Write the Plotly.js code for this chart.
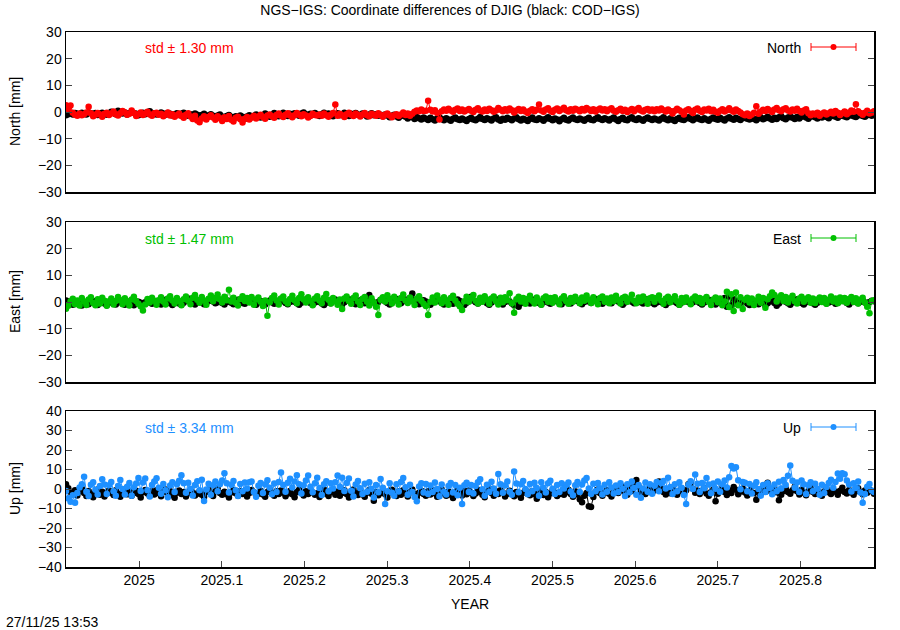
<!DOCTYPE html>
<html>
<head>
<meta charset="utf-8">
<script src="https://cdn.plot.ly/plotly-3.0.1.min.js"></script>
<style>html,body{margin:0;padding:0;background:#fff;}#chart{width:900px;height:630px;}</style>
</head>
<body>
<div id="chart"></div>
<script>
// Daily epochs (decimal year) start and step
const epochStart = 2024.9115;
const epochStep = 1 / 365.25;

const xTickVals = [2025, 2025.1, 2025.2, 2025.3, 2025.4, 2025.5, 2025.6, 2025.7, 2025.8];
const xTickText = ["2025", "2025.1", "2025.2", "2025.3", "2025.4", "2025.5", "2025.6", "2025.7", "2025.8"];

const neTicks = [-30, -20, -10, 0, 10, 20, 30];
const upTicks = [-40, -30, -20, -10, 0, 10, 20, 30, 40];

const stdLabels = ["std \u00b1 1.30 mm", "std \u00b1 1.47 mm", "std \u00b1 3.34 mm"];
const compNames = ["North", "East", "Up"];

// North: NGS-IGS (red)
const northNGS = [
2.5,1.2,2.4,-0.3,-1.0,-1.4,-0.6,-1.2,-0.8,-0.2,2.0,-0.5,-1.6,-1.0,-0.4,-0.9,-1.8,-0.7,-0.3,-1.1,
-0.6,0.2,-0.8,-1.3,-0.5,0.4,-0.2,-1.0,-0.7,0.6,-0.4,-1.5,-0.8,-0.2,-1.1,-0.6,0.1,-0.9,-1.4,-0.5,
-0.3,-1.0,-0.7,-1.6,-0.9,-0.2,-1.3,-0.8,-1.8,-1.2,-0.6,-1.5,-2.2,-1.0,-0.5,-1.7,-2.6,-1.4,-3.2,-3.8,
-2.4,-1.6,-2.8,-1.9,-1.2,-2.1,-2.9,-1.6,-2.3,-3.4,-2.0,-2.6,-1.5,-2.9,-3.6,-2.2,-1.8,-2.7,-3.9,-2.5,
-1.9,-2.8,-2.1,-1.4,-2.4,-1.7,-1.0,-1.9,-2.5,-1.3,-0.9,-1.6,-2.2,-1.1,-0.6,-1.4,-1.9,-1.0,-0.5,-1.3,
-2.0,-1.2,-0.4,-1.0,-1.6,-0.8,-1.3,-2.1,-1.5,-0.7,-1.1,-1.3,-0.9,-1.4,-0.6,-1.2,-1.8,-1.0,-0.4,2.8,
-1.4,-0.7,-1.2,-1.9,-0.8,-0.3,-1.0,-1.5,-0.6,-1.1,-1.7,-0.9,-0.4,-1.2,-1.6,-0.7,-1.0,-1.4,-0.5,-1.1,
-1.8,-1.0,-0.6,-1.3,-2.0,-1.2,-0.8,-1.5,-0.9,-0.2,-1.1,-0.6,-1.4,-0.7,0.1,0.6,0.3,0.9,0.4,0.5,
4.2,0.8,0.2,0.7,-0.4,-2.8,0.3,0.9,0.5,1.2,0.6,0.1,0.8,1.3,0.4,0.9,0.2,0.7,1.1,0.5,
0.0,0.8,1.4,0.6,0.2,0.9,0.4,1.2,0.7,0.1,0.6,1.5,0.8,0.3,1.0,0.5,1.3,0.7,-0.2,0.6,
1.1,0.4,0.9,0.2,-0.4,0.5,1.0,0.3,0.8,2.8,0.6,0.1,0.9,1.4,0.5,0.0,0.8,1.3,0.4,0.9,
1.6,0.7,0.2,1.0,0.5,1.2,0.8,0.3,1.1,0.6,1.5,0.9,0.4,1.0,0.2,0.8,1.3,0.6,1.0,0.3,
0.9,1.4,0.5,0.1,0.7,1.2,0.4,0.8,0.0,0.6,1.1,0.3,0.9,1.5,0.6,0.2,0.8,1.1,0.5,0.9,
0.3,1.0,0.6,1.3,0.7,0.2,0.9,0.4,-0.6,0.5,1.2,0.7,0.1,-0.9,0.6,1.0,0.4,-0.4,0.8,1.3,
0.5,0.0,0.9,0.6,1.2,0.3,0.8,0.1,-0.3,0.5,1.0,0.2,0.7,1.4,0.6,0.1,0.9,0.4,-0.2,-0.8,
-1.2,-0.6,-1.5,-0.9,-0.3,2.2,-0.7,0.2,0.8,0.4,1.1,0.6,0.0,0.9,1.5,0.7,0.3,1.0,1.4,0.6,
0.2,0.9,0.5,1.2,0.4,-0.2,0.6,1.0,-0.5,-1.2,-0.6,-0.9,-0.3,-1.4,-0.7,-0.2,-0.9,-0.5,0.1,-0.6,
0.4,-0.3,-1.1,-0.5,0.2,-0.8,-0.2,0.6,0.1,2.9,0.3,-0.4,-1.0,-0.3,0.5,-0.6,-0.2,0.3
];
// North: COD-IGS (black)
const northCOD = [
-1.2,-0.8,-0.5,-0.9,-0.4,-0.7,-1.0,-0.3,-0.6,-0.9,-0.2,-0.5,-0.8,-0.4,-1.1,-0.6,-0.3,-0.7,-1.0,-0.5,
0.1,-0.4,-0.8,0.5,-0.3,-0.6,-0.2,-0.9,-0.5,0.0,-0.4,-0.7,-1.2,-0.6,-0.3,-0.8,-0.5,0.3,-0.4,-0.7,
-0.9,-0.5,-0.2,-0.6,-1.0,-0.4,-0.7,-1.3,-0.8,-0.5,-1.1,-0.7,-0.3,-0.9,-1.4,-0.8,-1.2,-0.6,-1.0,-1.5,
-1.1,-0.7,-1.6,-1.2,-0.8,-1.4,-1.9,-1.3,-0.9,-1.7,-2.2,-1.5,-1.1,-1.8,-2.4,-1.6,-2.0,-1.3,-1.8,-2.5,
-1.7,-1.2,-2.0,-1.5,-0.9,-1.6,-2.1,-1.4,-0.6,-1.2,-1.8,-1.0,-0.4,-1.1,-1.6,-0.8,-0.3,-1.0,-1.5,-0.7,
-1.2,-0.5,-0.9,-1.4,-0.6,-0.2,-0.8,-1.3,-0.7,-1.0,-0.4,-0.9,-1.5,-0.8,-0.3,-1.1,-0.6,-1.0,-1.6,-0.9,
-0.5,-1.2,-0.8,-0.3,-1.0,-1.5,-0.7,-1.1,-0.4,-0.9,-1.3,-0.6,-1.0,-1.7,-0.9,-0.5,-1.2,-0.8,-1.4,-1.0,
-1.6,-0.9,-1.3,-2.0,-1.4,-1.0,-1.7,-2.2,-1.5,-1.1,-1.8,-2.4,-1.6,-2.0,-2.6,-1.9,-2.3,-2.8,-2.1,-2.5,
-3.0,-2.2,-2.7,-3.2,-2.4,-2.0,-2.6,-3.1,-2.3,-2.8,-3.3,-2.5,-2.1,-2.7,-3.0,-2.4,-2.9,-3.4,-2.6,-2.2,
-2.8,-3.1,-2.5,-1.9,-2.6,-3.0,-2.3,-2.7,-3.2,-2.4,-2.0,-2.8,-3.3,-2.5,-2.9,-2.2,-2.6,-3.1,-2.4,-2.0,
-2.7,-3.2,-2.5,-2.9,-3.4,-2.6,-2.1,-2.8,-3.0,-2.3,-2.7,-3.3,-2.5,-2.0,-2.6,-3.1,-2.4,-2.8,-3.5,-2.7,
-2.2,-2.9,-3.2,-2.5,-2.1,-2.7,-3.0,-2.4,-2.8,-3.3,-2.6,-2.2,-2.9,-3.1,-2.5,-2.0,-2.6,-3.0,-2.3,-2.7,
-3.2,-2.5,-2.1,-2.8,-3.4,-2.6,-2.2,-2.9,-3.1,-2.4,-2.0,-2.7,-3.0,-2.3,-2.8,-3.3,-2.5,-2.1,-2.6,-3.0,
-2.4,-2.8,-3.2,-2.5,-2.0,-2.7,-3.1,-2.3,-2.9,-3.4,-2.6,-2.2,-2.8,-3.0,-2.4,-2.0,-2.6,-3.1,-2.5,-2.1,
-2.7,-3.0,-2.3,-2.8,-3.3,-2.5,-2.1,-2.6,-2.9,-2.2,-2.7,-3.2,-2.4,-2.0,-2.5,-2.9,-2.2,-2.6,-3.0,-2.3,
-1.9,-2.5,-2.8,-2.1,-2.6,-3.1,-2.4,-2.0,-2.7,-2.3,-1.8,-2.4,-2.9,-2.2,-2.6,-2.0,-1.6,-2.3,-2.7,-2.1,
-1.7,-2.2,-2.6,-1.9,-2.4,-1.8,-1.5,-2.1,-2.5,-1.8,-1.4,-2.0,-2.4,-1.7,-2.1,-1.5,-1.9,-2.3,-1.6,-1.2,
-1.8,-2.2,-1.5,-1.1,-1.7,-2.0,-1.4,-1.0,-1.6,-1.9,-1.3,-0.9,-1.5,-1.8,-1.2,-0.8,-1.4,-1.1
];
// East: NGS-IGS (green)
const eastNGS = [
-2.5,-1.4,0.3,1.2,-0.8,0.6,-1.3,1.5,0.2,-1.1,0.9,1.8,-0.4,-1.2,1.0,-0.6,1.6,0.5,-1.4,0.3,
1.3,-0.9,0.4,1.9,0.7,-0.8,1.4,0.1,-1.3,0.9,2.0,0.4,-0.7,-1.6,-3.2,-0.9,1.1,-0.2,1.6,0.5,
-1.0,0.7,1.8,0.2,-0.9,1.3,2.2,0.6,-0.6,1.5,0.4,-1.2,1.0,2.1,0.5,-0.8,1.6,2.6,0.8,-0.3,
1.9,0.6,-1.0,1.2,2.4,0.3,1.5,2.8,1.0,-0.2,2.0,0.7,4.6,0.2,1.6,-0.3,-1.3,1.1,2.2,0.4,
1.5,-0.2,1.9,-1.0,0.9,1.7,0.1,-1.5,0.6,-5.2,-0.1,1.5,2.4,0.6,-0.9,1.3,2.1,0.3,-0.6,1.1,
2.3,0.7,-0.5,1.5,2.9,0.9,-0.2,1.8,0.5,-1.2,1.3,2.2,0.6,-0.5,1.6,3.0,0.8,-0.6,1.5,0.2,
-1.0,0.9,-2.6,1.3,2.1,0.4,-0.7,1.5,2.4,0.2,-1.1,1.2,1.9,0.1,-1.3,1.4,-0.2,-1.8,-4.9,0.8,
1.8,0.2,2.5,1.1,-0.6,2.0,0.7,-0.9,1.5,2.8,0.6,-0.4,1.7,0.3,-1.1,1.3,2.2,0.5,-0.7,-1.5,
-4.9,0.1,1.7,-0.2,2.4,0.9,-0.5,1.8,0.4,-1.0,1.5,2.3,0.6,-0.7,-1.6,-3.0,0.3,2.0,0.1,1.5,
2.6,0.5,-0.6,1.6,0.1,2.2,0.9,-0.7,1.3,2.1,0.3,-0.9,1.6,-0.1,1.8,0.7,3.3,-0.5,-4.0,1.0,
2.0,0.2,1.5,-0.7,1.1,2.3,0.5,-0.6,1.7,0.3,-1.0,1.4,2.1,0.1,1.5,-0.3,1.8,0.6,-0.8,1.3,
2.2,0.3,-0.7,1.5,0.1,2.0,0.8,-0.5,1.7,0.5,2.4,0.9,-0.4,1.8,0.3,-0.8,1.5,2.1,0.1,1.3,
-0.5,1.7,0.3,2.3,0.8,-0.6,1.5,2.0,0.1,1.3,2.7,0.5,-0.5,1.7,0.3,2.1,0.8,-0.7,1.4,1.8,
0.1,1.5,2.4,0.5,-0.7,1.3,2.0,-0.1,1.1,2.2,0.3,-1.0,1.5,0.0,1.7,0.6,-0.8,1.3,2.1,0.3,
1.5,-0.5,1.1,1.9,0.1,-1.1,0.9,1.7,-0.1,1.3,-1.2,0.2,3.8,-1.9,2.9,-3.4,3.6,-1.2,1.8,-2.6,
0.8,1.6,-0.2,1.3,-1.1,0.6,2.0,-0.3,1.5,-2.2,1.0,2.2,3.6,2.6,0.2,1.7,2.5,0.4,1.9,-0.2,
1.4,2.3,0.3,-0.6,1.3,2.0,0.1,1.1,1.8,-0.3,1.3,-0.4,0.9,1.7,0.0,1.5,-0.7,0.8,2.1,0.2,
1.3,-0.5,1.7,0.3,1.5,-0.3,1.1,1.9,0.0,1.4,-0.6,0.8,1.6,-0.2,-1.8,-4.2,0.4,0.7
];
// East: COD-IGS (black)
const eastCOD = [
0.6,0.2,-0.4,-1.0,-0.5,0.1,-0.7,-1.3,-0.6,0.0,-0.8,-0.3,0.4,-0.5,-1.1,-0.4,0.2,-0.6,-1.2,-0.3,
0.3,-0.5,-0.9,-0.2,0.5,-0.4,-1.0,-0.3,0.2,-0.6,-1.2,-0.5,0.1,-0.3,-0.8,-0.1,0.6,-0.2,-0.7,0.0,
0.4,-0.3,-0.9,-0.4,0.8,0.1,-0.5,-1.1,-0.2,0.3,-0.6,-1.0,-0.3,0.5,1.3,0.2,-0.4,-0.9,-0.1,0.6,
-0.2,-0.8,-0.3,0.4,1.0,0.2,-0.5,-0.1,0.7,-0.4,-0.9,0.0,0.5,-0.3,-0.8,0.1,0.8,0.3,-0.4,-0.7,
0.2,0.9,0.1,-0.5,-1.0,-0.2,0.4,-0.3,-0.9,0.0,0.6,-0.1,-0.7,-0.2,0.5,1.1,0.3,-0.4,-0.8,0.0,
0.7,0.1,-0.5,-1.0,-0.3,0.3,0.9,0.4,-0.4,-0.9,-0.2,0.5,0.0,-0.6,-1.1,-0.3,0.2,-0.5,0.4,0.9,
0.2,-0.4,-0.9,-0.1,0.5,1.0,0.3,-0.3,-0.8,0.1,0.7,0.2,-0.5,0.4,2.6,0.6,-0.2,-0.7,0.0,0.8,
1.2,0.3,-0.4,-0.9,-0.1,0.6,1.1,0.2,-0.5,0.3,0.9,0.4,1.5,3.2,0.5,-0.3,-0.8,0.0,0.7,0.2,
-0.4,-1.0,-0.2,0.5,1.0,0.3,-0.3,-0.9,0.1,0.6,-0.2,-0.7,0.2,0.9,0.4,-0.4,-1.1,-0.3,0.5,2.0,
0.6,-0.1,-0.6,0.2,0.8,0.3,-0.5,-1.0,-0.2,0.4,1.0,0.1,-0.4,-0.9,0.0,0.6,0.2,-0.6,-1.2,-0.3,
-1.8,-0.5,0.2,0.7,-0.1,-0.6,0.3,0.9,0.1,-0.4,-0.9,0.0,0.5,-0.2,-0.7,0.2,0.8,0.3,-0.3,-0.8,
0.1,0.6,-0.2,-0.6,0.3,1.0,0.4,-0.3,-0.8,0.0,0.7,0.2,-0.4,0.5,1.1,0.3,-0.2,-0.7,0.1,0.6,
-0.1,-0.5,0.4,0.9,0.2,-0.4,-1.0,-0.2,0.3,0.8,0.1,-0.5,0.2,0.7,-0.1,-0.6,0.3,1.0,0.4,-0.3,
-0.8,-0.2,0.5,0.0,-0.6,-1.1,-0.3,0.4,0.9,0.1,-0.5,-1.0,-0.2,0.3,0.8,0.0,-0.6,-0.1,0.6,0.2,
-0.4,-0.9,-0.2,0.4,0.8,0.1,-0.5,-0.9,-0.3,0.2,-0.7,1.5,-1.8,2.2,-1.2,1.0,-0.6,0.3,-0.4,0.5,
0.1,-0.6,-1.1,-0.3,0.4,-0.2,-0.8,0.0,0.6,-1.3,-0.5,0.2,0.7,-0.4,-1.4,-0.6,0.3,0.9,0.1,-0.5,
-1.0,-0.2,0.5,1.0,0.2,-0.4,-0.9,-0.1,0.6,0.2,-0.5,-1.0,-0.3,0.4,0.9,0.1,-0.6,-0.2,0.5,0.0,
-0.7,-0.3,0.4,1.0,0.3,-0.4,-0.9,-0.1,0.6,0.2,-0.5,0.1,0.7,-0.2,-0.8,0.0,0.5,0.3
];
// Up: NGS-IGS (blue)
const upNGS = [
-1.0,-4.8,-6.5,-3.2,-7.0,-2.1,0.8,2.5,6.3,-1.4,-3.6,2.2,3.5,-0.4,-2.8,1.6,5.0,2.3,-2.5,1.9,
3.6,-1.2,-3.4,1.5,4.6,0.0,-2.8,1.2,3.1,-3.5,0.9,2.8,5.6,-1.0,3.3,5.4,-0.6,-3.9,2.1,3.8,
5.5,0.7,-2.4,2.6,-0.7,-4.2,1.8,3.4,-1.5,2.4,4.2,7.1,2.9,-1.9,3.2,0.1,-3.3,2.0,4.0,-0.7,
4.8,-6.2,-0.3,2.7,-2.9,1.9,3.9,-1.2,2.5,4.4,8.1,3.0,-1.8,2.2,4.1,-0.6,-3.6,2.6,-1.1,3.3,
0.2,3.5,3.8,-1.5,-4.0,1.7,3.1,-2.0,2.3,4.5,0.6,-2.7,2.8,-1.6,3.6,8.5,2.1,-1.4,3.2,5.2,
0.8,3.9,7.0,2.4,-2.3,1.9,4.3,6.9,1.2,-1.7,3.0,5.8,0.5,-3.1,2.5,4.0,-1.2,2.9,0.2,3.4,
6.9,1.1,5.8,-1.0,3.1,5.4,-0.9,-3.8,2.3,4.1,0.4,-2.5,2.7,-1.4,3.5,0.1,-4.3,2.0,-1.7,5.1,
0.6,-7.7,-1.2,2.9,-1.9,-3.4,2.4,-1.3,3.6,5.7,0.9,-2.9,2.2,-1.5,-4.1,-6.3,1.3,3.0,-1.8,2.6,
-2.6,1.8,-1.6,3.3,0.0,-3.7,2.3,-1.4,-2.8,1.5,3.1,-1.8,2.0,-3.2,0.7,-7.7,1.9,3.2,-1.6,2.1,
-2.3,1.6,3.4,5.0,-0.1,-3.5,2.2,-1.5,3.7,0.2,-2.4,7.7,2.5,-1.9,1.8,3.9,-1.4,-3.0,9.0,2.8,
-1.7,2.4,4.1,0.0,-2.7,2.6,-1.2,3.2,0.5,-3.5,3.4,0.7,-1.8,2.9,4.2,0.1,-2.6,2.0,-1.6,3.0,
0.3,2.1,3.3,-1.3,-3.2,1.9,3.6,-1.5,2.3,4.4,5.6,0.2,-2.5,2.7,-1.1,3.1,0.4,-2.8,2.2,-1.4,
3.5,0.8,-2.3,1.8,-1.6,2.9,0.1,-3.6,2.4,-1.7,3.8,0.5,-2.9,2.0,-4.5,0.2,3.3,-1.4,2.5,-2.4,
1.7,3.6,-1.2,2.9,4.1,0.3,5.8,1.0,-2.6,2.4,-1.1,3.5,0.6,-3.1,-7.7,2.2,4.0,0.0,7.5,2.7,
-1.5,3.1,0.4,5.7,2.3,-2.2,2.8,0.1,3.9,-1.4,2.5,4.3,0.8,6.0,11.8,10.5,11.2,4.5,-0.1,3.6,
3.2,-1.2,2.6,-2.3,1.7,3.4,0.0,-3.4,2.1,-1.6,3.0,0.5,-2.7,2.3,-1.1,3.7,0.2,4.6,2.0,6.8,
12.0,4.2,0.6,3.3,-1.5,4.3,2.4,-2.6,1.9,3.5,-1.2,2.7,0.1,-2.9,2.2,-2.0,1.0,3.1,4.8,0.7,
3.6,7.9,5.2,8.1,7.6,4.4,2.3,-1.3,3.0,0.5,3.9,-1.8,-7.0,-2.5,1.2,2.6,-0.8,-1.5
];
// Up: COD-IGS (black)
const upCOD = [
2.5,0.4,-1.5,-2.8,-0.6,-3.3,-1.2,0.3,-2.0,-3.6,-1.0,-2.4,-4.2,-1.8,-0.2,-2.9,-1.4,-3.8,-2.2,-0.8,
-1.9,-3.1,-0.7,-2.5,-4.0,-1.6,-0.4,-2.7,-1.3,-3.4,-2.0,-0.9,-2.6,-4.3,-1.7,-0.5,-2.3,-3.5,-1.1,-2.8,
-0.6,-2.1,-3.7,-1.4,-0.2,-2.5,-1.0,-3.2,-4.5,-1.9,-0.8,-2.6,-1.5,-3.9,-2.2,-0.7,-1.8,-3.3,-2.4,-1.1,
-2.9,-4.1,-1.6,-0.4,-2.3,-3.6,-1.2,0.2,-2.0,-3.0,-1.4,-2.7,-4.4,-1.8,-0.6,-2.2,-3.5,-1.0,-2.5,-1.3,
-3.8,-2.1,-0.5,-1.7,-3.1,-2.4,-0.9,-2.8,-4.0,-1.5,-0.3,-2.0,-3.4,-1.2,-2.6,-0.8,-1.9,-3.7,-2.3,-1.0,
-2.7,-4.2,-1.6,-0.4,-2.1,-3.3,-1.1,-2.5,-0.6,-1.8,-3.0,-2.2,-4.1,-1.4,-0.2,-2.4,-3.6,-1.7,-0.9,-2.9,
-1.3,-3.5,-2.0,-0.7,-2.6,-4.3,-1.5,-0.3,-2.2,-3.1,-1.0,-2.8,-4.0,-1.9,-0.5,-2.4,-6.0,-1.6,-3.2,-2.1,
-0.8,-2.7,-4.4,-1.8,-0.4,-2.3,-3.6,-1.2,-2.9,-0.7,-2.0,-3.8,-1.5,-0.3,-2.5,-4.1,-1.9,-0.9,-2.6,-3.4,
-1.1,-2.8,-0.6,-2.2,-4.0,-1.7,-0.2,-2.4,-3.5,-1.3,-2.9,-4.6,-1.8,-0.5,-2.1,-3.3,-1.0,-2.7,-0.8,-1.9,
-3.6,-2.3,-0.4,-1.6,-3.0,-4.2,-1.4,0.3,-2.0,-3.4,-1.2,-2.6,-0.7,-1.8,-3.9,-2.5,-0.9,-2.1,-3.7,-1.5,
-2.8,-4.5,-1.9,-0.6,-2.4,-3.2,-1.1,-2.7,-5.0,-2.0,-0.8,-3.1,-1.6,-4.2,-2.3,-0.5,-1.9,-3.6,-2.6,-1.3,
-3.0,-1.7,-0.4,-2.5,-4.0,-1.2,-2.8,-5.3,-6.8,-3.4,-2.0,-8.9,-9.2,-4.1,-1.5,-0.3,-2.2,-3.5,-1.8,-0.6,
-2.4,-3.9,-1.4,-0.2,-2.1,-0.8,1.2,-1.6,-2.9,0.6,-1.0,2.1,4.6,1.0,-1.7,-0.5,-2.6,-1.3,0.4,-1.8,
-0.7,1.5,3.8,0.2,-1.5,-2.8,-0.9,-2.2,0.5,-1.4,-3.0,-1.1,0.3,-2.0,-0.6,2.5,3.2,0.1,-1.9,-0.8,
-2.6,-1.2,0.4,-2.3,-3.5,-1.6,-0.3,-6.3,-2.4,-1.0,0.8,-1.5,-3.1,-0.7,-2.1,1.0,-0.4,-2.7,-1.3,0.2,
-1.8,-3.3,-0.9,1.4,-2.0,-5.5,-1.1,-2.5,0.6,-1.4,3.2,-0.8,-2.2,-0.5,-1.7,-5.8,-2.9,-1.0,0.3,-1.6,
-2.4,-0.7,1.1,-1.2,-2.8,-0.4,-1.9,-3.2,-1.1,0.5,-1.5,-2.6,-0.8,-2.0,-3.4,-1.3,0.2,-1.7,-2.5,-0.6,
-1.4,-2.9,-0.9,0.7,-1.6,-2.3,-0.5,-1.8,-3.0,-1.1,0.4,-1.5,-2.7,-0.8,-1.9,-0.3,-1.2,-2.4
];

const colors = ["#ff0000", "#00c000", "#1e90ff"];

function epochs(n) { const a = []; for (let i = 0; i < n; i++) a.push(epochStart + i * epochStep); return a; }

// geometry helpers (pixel -> paper)
const L = 66, R = 874, T = 32, B = 567;
const px = p => (p - L) / (R - L);
const py = p => (B - p) / (B - T);

const panels = [
  {cod: northCOD, ngs: northNGS, xa: "x3", ya: "y3"},
  {cod: eastCOD, ngs: eastNGS, xa: "x2", ya: "y2"},
  {cod: upCOD, ngs: upNGS, xa: "x", ya: "y"}
];

const traces = [];
panels.forEach((p, k) => {
  traces.push({x: epochs(p.cod.length), y: p.cod, xaxis: p.xa, yaxis: p.ya, type: "scatter", mode: "lines+markers",
    line: {color: "#000", width: 1}, marker: {color: "#000", size: 6.5}, showlegend: false, hoverinfo: "skip"});
  traces.push({x: epochs(p.ngs.length), y: p.ngs, xaxis: p.xa, yaxis: p.ya, type: "scatter", mode: "lines+markers",
    line: {color: colors[k], width: 1}, marker: {color: colors[k], size: 6.5}, showlegend: false, hoverinfo: "skip"});
});

const xr = [epochStart, epochStart + (northNGS.length - 1) * epochStep];
const font = {family: "Liberation Sans, Arial, sans-serif", size: 14, color: "#000"};

function xaxisDef(anchor, showLabels) {
  return {anchor: anchor, range: xr, showline: true, mirror: true, linecolor: "#000", linewidth: 1.5,
    showgrid: false, zeroline: false, tickvals: showLabels ? xTickVals : [], ticktext: showLabels ? xTickText : [],
    ticks: showLabels ? "inside" : "", ticklen: 6, tickcolor: "#444", tickfont: font, showticklabels: showLabels};
}
function yaxisDef(anchor, domain, range, tv) {
  return {anchor: anchor, domain: domain, range: range, showline: true, mirror: "ticks", linecolor: "#000", linewidth: 1.5,
    showgrid: false, zeroline: false, tickvals: tv, ticks: "inside", ticklen: 6, tickcolor: "#444", tickfont: font};
}

const dTop = [py(192), py(32)], dMid = [py(382), py(222)], dBot = [py(567), py(411)];

const annotations = [
  {text: "YEAR", xref: "paper", yref: "paper", x: px(470), y: py(604), showarrow: false, font: font, xanchor: "center", yanchor: "middle"},
  {text: "27/11/25 13:53", xref: "paper", yref: "paper", x: px(4), y: py(622), showarrow: false, font: font, xanchor: "left", yanchor: "middle"}
];
const yLabelPos = [112, 302, 489];
const rowY = [48, 239, 428];
const shapes = [];
compNames.forEach((name, k) => {
  annotations.push({text: name + " [mm]", xref: "paper", yref: "paper", x: px(15), y: py(yLabelPos[k]), showarrow: false,
    textangle: -90, font: font, xanchor: "center", yanchor: "middle"});
  annotations.push({text: stdLabels[k], xref: "paper", yref: "paper", x: px(143), y: py(rowY[k]), showarrow: false,
    font: Object.assign({}, font, {color: colors[k]}), xanchor: "left", yanchor: "middle"});
  annotations.push({text: name, xref: "paper", yref: "paper", x: px(803), y: py(rowY[k]), showarrow: false,
    font: font, xanchor: "right", yanchor: "middle"});
  const ly = py(rowY[k] - 1);
  const cap = 4 / (B - T);
  shapes.push({type: "line", xref: "paper", yref: "paper", x0: px(811), x1: px(856), y0: ly, y1: ly, line: {color: colors[k], width: 1}});
  shapes.push({type: "line", xref: "paper", yref: "paper", x0: px(811), x1: px(811), y0: ly - cap, y1: ly + cap, line: {color: colors[k], width: 1}});
  shapes.push({type: "line", xref: "paper", yref: "paper", x0: px(856), x1: px(856), y0: ly - cap, y1: ly + cap, line: {color: colors[k], width: 1}});
  const r = 3;
  shapes.push({type: "circle", xref: "paper", yref: "paper", x0: px(833.5 - r), x1: px(833.5 + r), y0: py(rowY[k] - 1 + r), y1: py(rowY[k] - 1 - r),
    fillcolor: colors[k], line: {color: colors[k], width: 0}});
});

const layout = {
  width: 900, height: 630,
  margin: {l: L, r: 900 - R, t: T, b: 630 - B, pad: 0},
  paper_bgcolor: "#fff", plot_bgcolor: "#fff",
  font: font,
  title: {text: "NGS\u2212IGS: Coordinate differences of DJIG (black: COD\u2212IGS)", font: font,
    x: 0.5, xref: "container", xanchor: "center", y: 1 - 10 / 630, yref: "container", yanchor: "middle"},
  showlegend: false,
  xaxis: xaxisDef("y", true),
  xaxis2: Object.assign(xaxisDef("y2", false), {matches: "x"}),
  xaxis3: Object.assign(xaxisDef("y3", false), {matches: "x"}),
  yaxis: yaxisDef("x", dBot, [-40, 40], upTicks),
  yaxis2: yaxisDef("x2", dMid, [-30, 30], neTicks),
  yaxis3: yaxisDef("x3", dTop, [-30, 30], neTicks),
  annotations: annotations,
  shapes: shapes
};

Plotly.newPlot("chart", traces, layout, {staticPlot: true, displayModeBar: false});
</script>
</body>
</html>
